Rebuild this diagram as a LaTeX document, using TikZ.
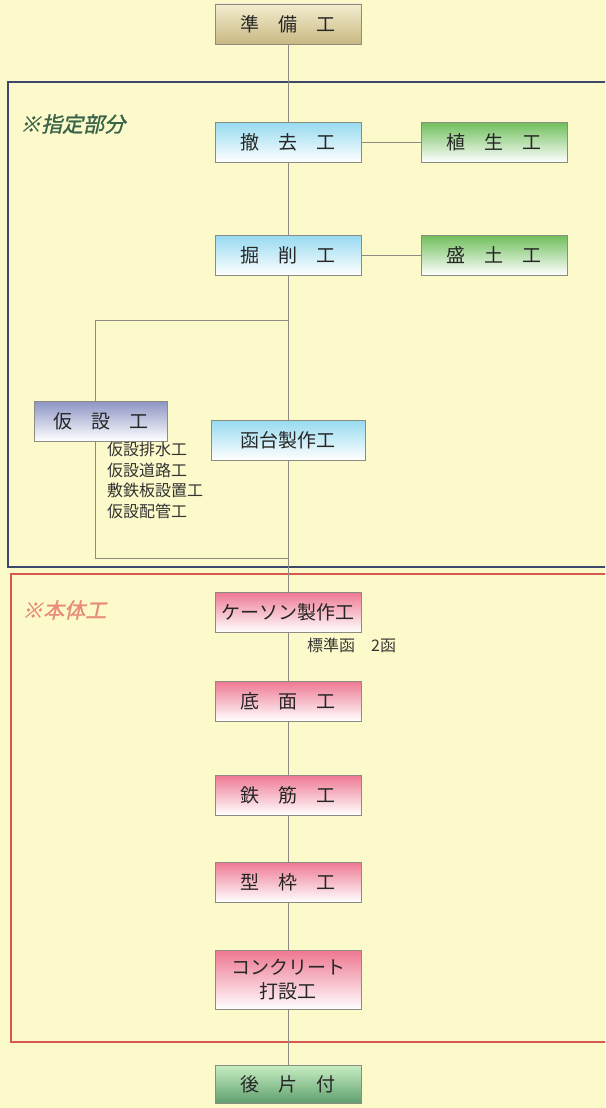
\documentclass[tikz,border=0pt]{standalone}
\usepackage{fontspec}
\setmainfont{Noto Sans CJK JP}
\newfontfamily\slantfont[FakeSlant=0.22,FakeBold=1.2]{Noto Sans CJK JP}
\usetikzlibrary{positioning}
\definecolor{paper}{RGB}{252,250,202}
\definecolor{edgegray}{RGB}{140,140,130}
\definecolor{framblue}{RGB}{60,72,110}
\definecolor{framred}{RGB}{214,88,80}
\definecolor{labgreen}{RGB}{58,100,72}
\definecolor{labpink}{RGB}{232,140,120}
\definecolor{prepbot}{RGB}{200,184,130}
\definecolor{prepmid}{RGB}{236,226,176}
\definecolor{cyantop}{RGB}{150,218,240}
\definecolor{greentop}{RGB}{110,190,90}
\definecolor{purptop}{RGB}{140,148,196}
\definecolor{pinktop}{RGB}{238,120,146}
\definecolor{endtop}{RGB}{200,238,196}
\definecolor{endbot}{RGB}{96,160,110}
\tikzset{>=stealth,x=1pt,y=-1pt}
\tikzset{
  box/.style={draw=edgegray,line width=0.8pt,minimum width=146pt,minimum height=40pt,
    inner sep=0pt,font=\fontsize{19}{20}\selectfont,text=black!85},
  prepbox/.style={box,top color=prepmid!60!white,bottom color=prepbot},
  cyanbox/.style={box,top color=cyantop,bottom color=white},
  greenbox/.style={box,top color=greentop,bottom color=white},
  tempbox/.style={box,minimum width=133pt,top color=purptop,bottom color=white},
  pinkbox/.style={box,top color=pinktop,bottom color=white},
  endbox/.style={box,minimum height=38pt,top color=endtop,bottom color=endbot},
  link/.style={draw=edgegray,line width=0.8pt},
  note/.style={font=\fontsize{16}{20.5}\selectfont,text=black!80,align=left,inner sep=0pt},
  framelabel/.style={font=\slantfont\fontsize{21}{22}\selectfont,anchor=west,inner sep=0pt}
}
\newcommand{\kgap}{\hspace{1em}}
\begin{document}
\begin{tikzpicture}
\useasboundingbox (0,0) rectangle (605,1108);
\fill[paper] (0,0) rectangle (605,1108);
\clip (0,0) rectangle (605,1108);

% frames
\draw[framblue,line width=1.6pt] (620,82) -- (8,82) -- (8,567) -- (620,567);
\draw[framred,line width=1.6pt] (620,574) -- (11,574) -- (11,1042) -- (620,1042);
\node[framelabel,text=labgreen] (shitei) at (20,124) {※指定部分};
\node[framelabel,text=labpink] (hontai) at (22,610) {※本体工};

% boxes
\node[prepbox] (junbi) at (288,24) {準\kgap 備\kgap 工};
\node[cyanbox] (tekkyo) at (288,142) {撤\kgap 去\kgap 工};
\node[greenbox] (shokusei) at (494,142) {植\kgap 生\kgap 工};
\node[cyanbox] (kussaku) at (288,255) {掘\kgap 削\kgap 工};
\node[greenbox] (morido) at (494,255) {盛\kgap 土\kgap 工};
\node[tempbox] (kasetsu) at (101,421) {仮\kgap 設\kgap 工};
\node[cyanbox,minimum width=154pt] (kandai) at (288,440) {函台製作工};
\node[pinkbox] (caisson) at (288,612) {ケーソン製作工};
\node[pinkbox] (teimen) at (288,701) {底\kgap 面\kgap 工};
\node[pinkbox] (tekkin) at (288,795) {鉄\kgap 筋\kgap 工};
\node[pinkbox] (katawaku) at (288,882) {型\kgap 枠\kgap 工};
\node[pinkbox,minimum height=59pt,align=center,font=\fontsize{19}{24}\selectfont] (conc) at (288,980) {コンクリート\\打設工};
\node[endbox] (ato) at (288,1084) {後\kgap 片\kgap 付};

% notes
\node[note,anchor=north west] (kasetsulist) at (107,442) {仮設排水工\\仮設道路工\\敷鉄板設置工\\仮設配管工};
\node[note,anchor=west] (hyojun) at (307,645) {標準函\hspace{1em}2函};

% connectors
\coordinate (bra) at (288,320);
\coordinate (brb) at (95,320);
\coordinate (brc) at (95,558);
\coordinate (brd) at (288,558);
\path[link] (tekkyo) -- (shokusei);
\path[link] (kussaku) -- (morido);
\path[link] (bra) -- (brb) -- (brb |- kasetsu.north);
\path[link] (brc |- kasetsu.south) -- (brc) -- (brd);
\path[link] (junbi) -- (tekkyo);
\path[link] (tekkyo) -- (kussaku);
\path[link] (kussaku) -- (kandai);
\path[link] (kandai) -- (caisson);
\path[link] (caisson) -- (teimen);
\path[link] (teimen) -- (tekkin);
\path[link] (tekkin) -- (katawaku);
\path[link] (katawaku) -- (conc);
\path[link] (conc) -- (ato);
\end{tikzpicture}
\end{document}
